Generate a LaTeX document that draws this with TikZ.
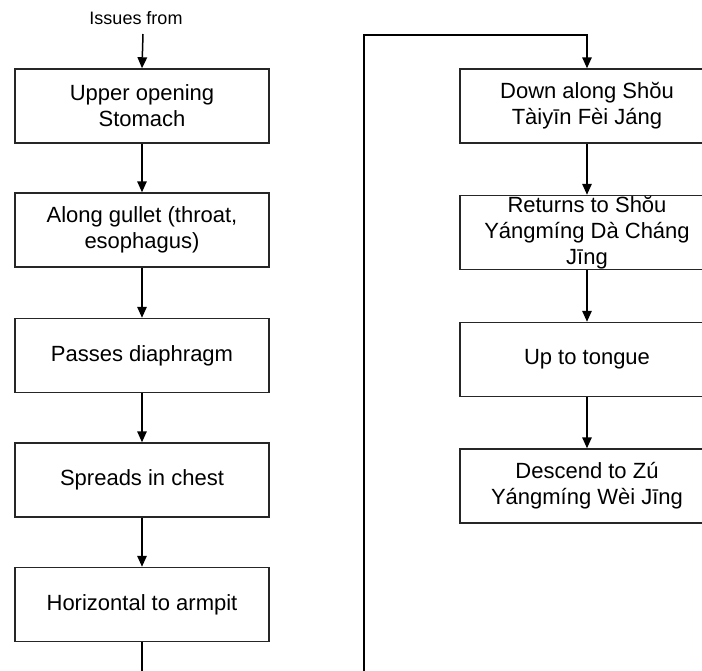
\documentclass[tikz,border=0pt]{standalone}
\usepackage{fontspec}
\setmainfont{Liberation Sans}
\usetikzlibrary{arrows.meta}
\tikzset{
  box/.style={draw=black!85, line width=1.5pt, minimum width=254pt, minimum height=74pt, inner sep=0pt, fill=white},
  txt/.style={align=center, inner sep=0pt, font=\fontsize{22}{26}\selectfont},
  conn/.style={line width=1.5pt, -{Triangle[length=11pt,width=9.5pt]}},
  plain/.style={line width=1.5pt}
}
\begin{document}
\begin{tikzpicture}[x=1pt,y=-1pt]
\useasboundingbox (0,0) rectangle (702,670);
\clip (0,0) rectangle (702,670);
\fill[white] (0,0) rectangle (702,670);
% left column
\node[txt, font=\fontsize{18}{21}\selectfont, anchor=base] (iss) at (136,24) {Issues from};
\coordinate (istart) at (143,34);
\node[box] (l1) at (142,106) {};
\node[txt] at (l1) {Upper opening\\Stomach};
\node[box] (l2) at (142,230) {};
\node[txt] at (l2) {Along gullet (throat,\\esophagus)};
\node[box] (l3) at (142,355.5) {};
\node[txt] at (l3) {Passes diaphragm};
\node[box] (l4) at (142,480) {};
\node[txt] at (l4) {Spreads in chest};
\node[box] (l5) at (142,604.5) {};
\node[txt] at (l5) {Horizontal to armpit};
\coordinate (lbot) at (142,672);
% right column
\node[box] (r1) at (587,106) {};
\node[txt] at (r1) {Down along Shŏu\\Tàiyīn Fèi Jáng};
\node[box] (r2) at (587,232.5) {};
\node[txt] at (r2) {Returns to Shŏu\\Yángmíng Dà Cháng\\Jīng};
\node[box] (r3) at (587,359.5) {};
\node[txt] at (r3) {Up to tongue};
\node[box] (r4) at (587,486) {};
\node[txt] at (r4) {Descend to Zú\\Yángmíng Wèi Jīng};
\coordinate (rbot) at (364,672);
\coordinate (corner) at (364,35);
% connectors
\draw[conn] (istart) -- (l1.north);
\draw[conn] (l1) -- (l2);
\draw[conn] (l2) -- (l3);
\draw[conn] (l3) -- (l4);
\draw[conn] (l4) -- (l5);
\draw[plain] (l5.south) -- (lbot);
\draw[conn] (rbot) -- (corner) -| (r1.north);
\draw[conn] (r1) -- (r2);
\draw[conn] (r2) -- (r3);
\draw[conn] (r3) -- (r4);
\end{tikzpicture}
\end{document}
